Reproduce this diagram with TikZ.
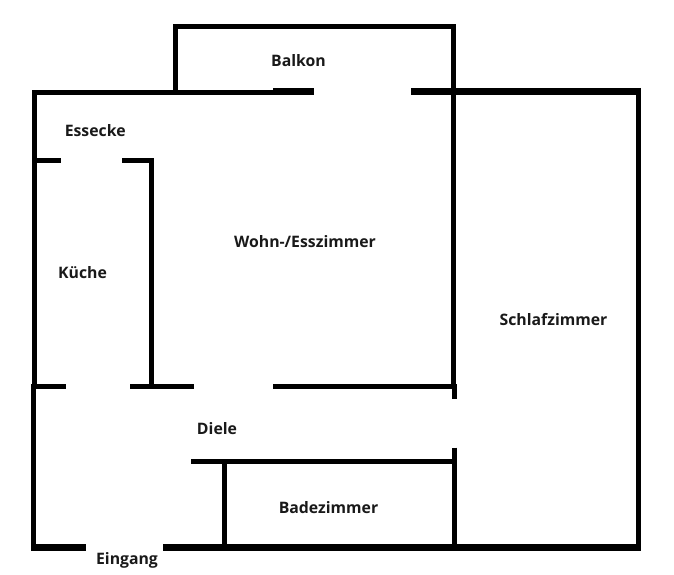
\documentclass[tikz,border=0pt]{standalone}
\usepackage{fontspec}
\setmainfont{Open Sans}
\usepackage{tikz}
\tikzset{x=1pt, y=-1pt}
\tikzstyle{wall} = [draw=black, line width=4.7pt, miter limit=10]
\tikzstyle{thick wall} = [wall, line width=6.8pt]
\tikzstyle{room} = [font=\fontsize{15.8}{15.8}\selectfont\bfseries, text=black!90, inner sep=0pt, anchor=center]

\begin{document}
\begin{tikzpicture}
	\useasboundingbox (0,0) rectangle (674,575);

	% balcony
	\draw [wall] (175.7,92.5) -- (175.7,26.5) -- (453.3,26.5) -- (453.3,92);
	% outer walls, with the openings
	\draw [wall] (34.2,386) -- (34.2,92.5) -- (290,92.5);
	\draw [wall, line width=5.4pt] (33.7,384) -- (33.7,550);
	\draw [thick wall] (273,91.5) -- (314,91.5);
	\draw [thick wall] (411,91.5) -- (641,91.5);
	\draw [wall] (638.5,88) -- (638.5,545);
	\draw [thick wall] (31,547.3) -- (86,547.3);
	\draw [thick wall] (163,547.3) -- (641,547.3);
	% kitchen
	\draw [wall] (34,160.3) -- (61,160.3);
	\draw [wall] (122,160.3) -- (151.4,160.3) -- (151.4,386);
	% hall
	\draw [wall] (33,386.5) -- (66,386.5);
	\draw [wall] (130,386.5) -- (194,386.5);
	\draw [wall] (273,386.5) -- (453,386.5);
	\draw [wall] (453.3,92) -- (453.3,386.5);
	\draw [wall] (454.8,384) -- (454.8,399.3);
	\draw [wall] (454.8,447.7) -- (454.8,545);
	% bathroom
	\draw [wall] (191,461.5) -- (453,461.5);
	\draw [wall] (224.7,461.5) -- (224.7,545);

	\node [room] (balkon) at (298.5,60.7) {Balkon};
	\node [room] (essecke) at (95.2,130.7) {Essecke};
	\node [room] (wohnen) at (305,241.7) {Wohn-/Esszimmer};
	\node [room] (kueche) at (82.5,272.7) {Küche};
	\node [room] (schlafen) at (553.5,319.7) {Schlafzimmer};
	\node [room] (diele) at (217,428.7) {Diele};
	\node [room] (bad) at (328.5,507.7) {Badezimmer};
	\node [room] (eingang) at (127,560.7) {Eingang};
\end{tikzpicture}
\end{document}
